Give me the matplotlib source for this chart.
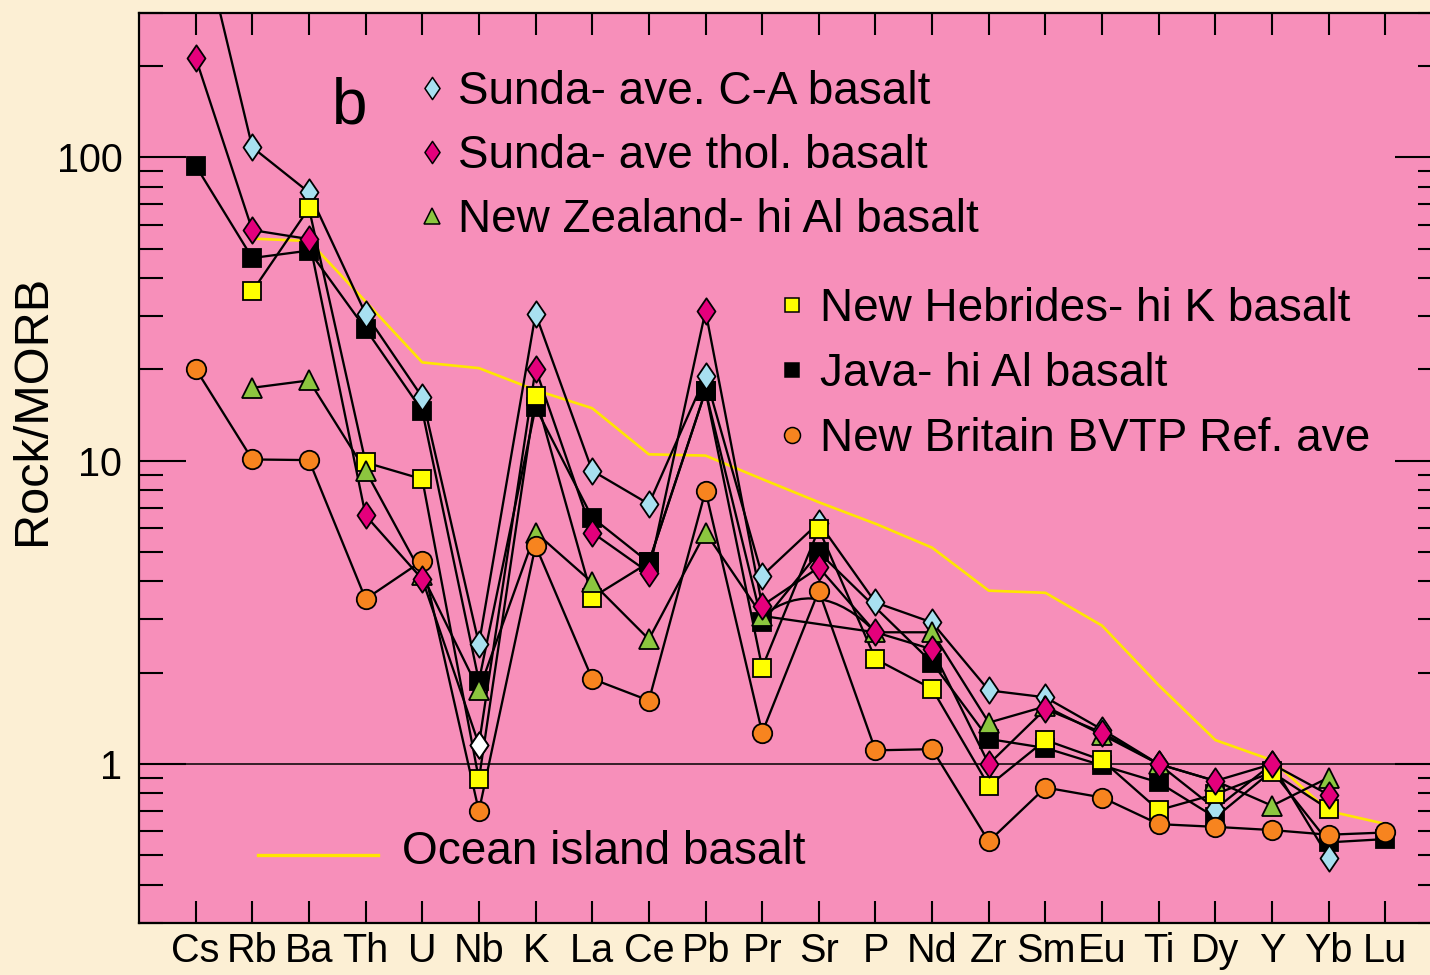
import numpy as np
import matplotlib
matplotlib.use("Agg")
import matplotlib.pyplot as plt
from matplotlib.ticker import FixedLocator, FixedFormatter, NullFormatter
from matplotlib.path import Path
from matplotlib.patches import PathPatch

plt.rcParams['font.family'] = ['Liberation Sans', 'DejaVu Sans']

nan = np.nan
elements = ["Cs", "Rb", "Ba", "Th", "U", "Nb", "K", "La", "Ce", "Pb", "Pr",
            "Sr", "P", "Nd", "Zr", "Sm", "Eu", "Ti", "Dy", "Y", "Yb", "Lu"]

sunda_ca   = [650, 108, 76.7, 30.5, 16.2, 2.49, 30.5, 9.27, 7.2, 19.0, 4.18,
              6.25, 3.41, 2.93, 1.75, 1.66, 1.30, 1.0, 0.712, 1.0, 0.492, nan]
sunda_thol = [213, 57.6, 53.8, 6.6, 4.07, 1.16, 20.1, 5.8, 4.28, 31.2, 3.33,
              4.45, 2.72, 2.39, 1.0, 1.52, 1.27, 1.0, 0.88, 1.0, 0.792, nan]
nz_hial    = [nan, 17.4, 18.4, 9.27, 4.2, 1.75, 5.8, 3.97, 2.58, 5.8, 3.08,
              nan, 2.72, 2.72, 1.37, 1.55, 1.25, 1.0, 0.88, 0.729, 0.903, nan]
nz_sr_arc_top = 3.5   # apex of the curved NZ segment drawn over Sr
nh_hik     = [nan, 36.2, 68.0, 9.87, 8.7, 0.89, 16.4, 3.54, 4.62, 17.0, 2.08,
              5.96, 2.22, 1.77, 0.848, 1.2, 1.03, 0.705, 0.796, 0.94, 0.71, nan]
java_hial  = [94, 46.6, 49.3, 27.2, 14.6, 1.88, 15.0, 6.5, 4.62, 17.0, 2.93,
              4.99, nan, 2.16, 1.21, 1.13, 0.99, 0.87, 0.667, 0.95, 0.552, 0.566]
nb_bvtp    = [20.1, 10.1, 10.05, 3.5, 4.68, 0.70, 5.25, 1.91, 1.62, 7.96, 1.27,
              3.73, 1.11, 1.12, 0.556, 0.837, 0.776, 0.634, 0.621, 0.606, 0.585, 0.595]
oib        = [nan, 54, 53, 33.5, 21.1, 20.2, 17.1, 14.9, 10.5, 10.4, 8.7,
              7.3, 6.2, 5.17, 3.73, 3.67, 2.86, 1.82, 1.20, 1.03, 0.70, 0.635]

ytick_vals = [1, 10, 100]
ytick_labels = ["1", "10", "100"]

W, H = 1430, 975
OUTER = "#fcefd4"
PINK = "#f78fba"

DIAMOND = Path([(0, 1), (0.68, 0), (0, -1), (-0.68, 0), (0, 1)],
               [Path.MOVETO, Path.LINETO, Path.LINETO, Path.LINETO, Path.CLOSEPOLY])

fig = plt.figure(figsize=(W / 100, H / 100), dpi=100, facecolor=OUTER)

def fx(px):
    return px / W

def fy(py):
    return 1 - py / H

left, right, top, bottom = 139, 1442, 12.7, 922.7
ax = fig.add_axes([fx(left), fy(bottom), fx(right - left), (bottom - top) / H])
ax.set_facecolor(PINK)
ax.set_yscale('log')
ax.set_xlim(-1, 22)
ax.set_ylim(0.3, 300)

x = np.arange(len(elements))

series = {
    "ca":   ("Sunda- ave. C-A basalt", sunda_ca, DIAMOND, "#a8e0f0", 19),
    "thol": ("Sunda- ave thol. basalt", sunda_thol, DIAMOND, "#e4007c", 19),
    "nz":   ("New Zealand- hi Al basalt", nz_hial, '^', "#8cc63f", 14.5),
    "nh":   ("New Hebrides- hi K basalt", nh_hik, 's', "#ffff00", 13.5),
    "java": ("Java- hi Al basalt", java_hial, 's', "#000000", 13.5),
    "nb":   ("New Britain BVTP Ref. ave", nb_bvtp, 'o', "#f7841f", 14),
}

LW = 1.65
MEW = 1.3

for key, (name, vals, m, c, ms) in series.items():
    v = np.array(vals, dtype=float)
    ok = ~np.isnan(v)
    ax.plot(x[ok], v[ok], '-', color='black', lw=LW, zorder=3,
            solid_joinstyle='miter')

i_pr, i_sr, i_p = elements.index("Pr"), elements.index("Sr"), elements.index("P")
a, b = np.log10(nz_hial[i_pr]), np.log10(nz_hial[i_p])
ctrl = 10 ** (2 * np.log10(nz_sr_arc_top) - 0.5 * (a + b))
arc = Path([(x[i_pr], nz_hial[i_pr]), (x[i_sr], ctrl), (x[i_p], nz_hial[i_p])],
           [Path.MOVETO, Path.CURVE3, Path.CURVE3])
ax.add_patch(PathPatch(arc, facecolor='none', edgecolor='black', lw=LW, zorder=3))

ax.plot(x, oib, '-', color="#ffe600", lw=1.9, zorder=2.5)

ax.axhline(1, color='black', lw=1.1, zorder=2)

def draw_markers(key, z, mask=None):
    name, vals, m, c, ms = series[key]
    v = np.array(vals, dtype=float)
    if mask is not None:
        v = np.where(mask, v, np.nan)
    ax.plot(x, v, linestyle='none', marker=m, ms=ms, mfc=c, mec='black',
            mew=MEW, zorder=z)

nh_arr = np.array(nh_hik, dtype=float)
java_arr = np.array(java_hial, dtype=float)
under = np.isclose(nh_arr, java_arr)

draw_markers("nh", 4.5, under)
draw_markers("java", 5)
draw_markers("ca", 6)
draw_markers("nh", 7, ~under)
draw_markers("nz", 8)
draw_markers("nb", 9)
draw_markers("thol", 10)

i_nb = elements.index("Nb")
ax.plot([x[i_nb]], [sunda_thol[i_nb]], linestyle='none', marker=DIAMOND, ms=19,
        mfc='white', mec='black', mew=MEW, zorder=20)

ax.xaxis.set_major_locator(FixedLocator(x))
ax.set_xticklabels(elements)
ax.yaxis.set_major_locator(FixedLocator(ytick_vals))
ax.yaxis.set_major_formatter(FixedFormatter(ytick_labels))
minors = [m * 10.0 ** e for e in range(-1, 3) for m in range(2, 10)]
ax.yaxis.set_minor_locator(FixedLocator(minors))
ax.yaxis.set_minor_formatter(NullFormatter())
ax.xaxis.set_minor_locator(FixedLocator([]))

ax.tick_params(axis='x', which='major', direction='in', length=16, width=1.5,
               top=True, bottom=True, labelsize=28.5, pad=7)
ax.tick_params(axis='y', which='major', direction='in', length=34, width=1.5,
               left=True, right=True, labelsize=28.5, pad=12)
ax.tick_params(axis='y', which='minor', direction='in', length=17, width=1.5,
               left=True, right=True)
for sp in ax.spines.values():
    sp.set_linewidth(1.6)
    sp.set_color('black')

fig.text(fx(33), fy(410), "Rock/MORB", rotation=90, ha='center', va='center',
         fontsize=35)

fig.text(fx(350), fy(124), "b", ha='center', va='baseline', fontsize=46)

leg = [("ca", 104, 432, 458), ("thol", 168, 432, 458), ("nz", 232, 432, 458),
       ("nh", 321, 792, 820), ("java", 386, 792, 820), ("nb", 451, 792, 820)]
legend_ms = {"ca": 16, "thol": 16, "nz": 11.5, "nh": 10.5, "java": 10.5, "nb": 11.5}
for key, base, mx, tx in leg:
    name, vals, m, c, ms = series[key]
    fig.add_artist(plt.Line2D([fx(mx)], [fy(base - 16)], marker=m,
                              ms=legend_ms[key], mfc=c, mec='black', mew=1.1,
                              linestyle='none', transform=fig.transFigure))
    fig.text(fx(tx), fy(base), name, ha='left', va='baseline', fontsize=33)

fig.add_artist(plt.Line2D([fx(258), fx(378)], [fy(855), fy(855)], color="#ffe600",
                          lw=2.4, transform=fig.transFigure))
fig.text(fx(402), fy(864), "Ocean island basalt", ha='left', va='baseline',
         fontsize=33)

fig.savefig("out.png", dpi=100, facecolor=OUTER)
